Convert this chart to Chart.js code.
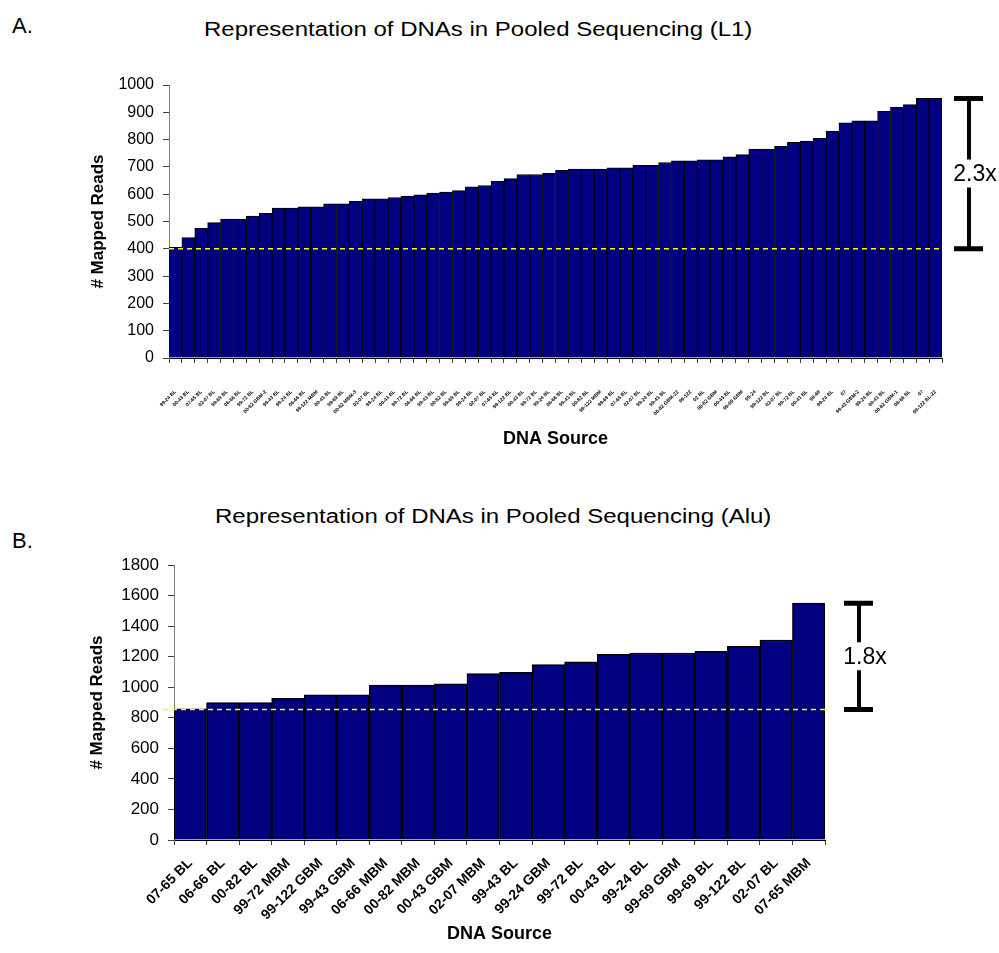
<!DOCTYPE html>
<html>
<head>
<meta charset="utf-8">
<script src="https://cdn.jsdelivr.net/npm/chart.js@4"></script>
<style>
  body { margin: 0; background: #fff; font-family: "Liberation Sans", Arial, sans-serif; }
  #wrap { position: relative; width: 999px; height: 953px; }
  canvas { position: absolute; left: 0; }
  .txt { position: absolute; white-space: nowrap; color: #000; line-height: 1; }
  .ttl { font-size: 20px; transform: scaleX(1.2); transform-origin: left center; }
</style>
</head>
<body>
<div id="wrap">
  <div class="txt" style="left:12px;top:15px;font-size:22px">A.</div>
  <div class="txt ttl" style="left:204px;top:19px">Representation of DNAs in Pooled Sequencing (L1)</div>
  <canvas id="l1" width="999" height="470" style="top:0"></canvas>
  <div class="txt" style="left:12px;top:530px;font-size:22px">B.</div>
  <div class="txt ttl" style="left:215px;top:506px">Representation of DNAs in Pooled Sequencing (Alu)</div>
  <canvas id="alu" width="999" height="483" style="top:470px"></canvas>
</div>
<script>
// L1 panel: 60 DNA sources (labels too small to read, estimated)
const l1Labels = [
  "99-24 BL", "00-43 BL", "07-65 BL", "02-07 BL", "99-69 BL", "06-66 BL", "99-72 BL", "00-82 GBM-2",
  "99-43 BL", "99-24 BL", "06-66 BL", "99-122 MBM", "00-43 BL", "99-69 BL", "00-82 MBM-3", "02-07 BL",
  "99-24 BL", "00-43 BL", "99-72 BL", "06-66 BL", "99-43 BL", "00-82 BL", "99-69 BL", "99-24 BL",
  "02-07 BL", "07-65 BL", "99-122 BL", "00-43 BL", "99-72 BL", "99-24 BL", "06-66 BL", "99-43 BL",
  "00-82 BL", "99-122 MBM", "99-69 BL", "07-65 BL", "02-07 BL", "99-24 BL", "99-43 BL", "00-82 GBM-22",
  "99-122", "02 BL", "00-82 GBM", "00-43 BL", "99-69 GBM", "99-24", "99-122 BL", "02-07 BL",
  "99-72 BL", "00-43 BL", "99-69", "99-24 BL", "07", "99-43 GBM-2", "99-24 BL", "00-43 BL",
  "00-82 GBM-1", "06-66 BL", "07", "99-122 BL-22"
];
const l1Reads = [
  405, 441, 475, 496, 509, 509, 520, 530, 549, 549,
  554, 554, 565, 565, 574, 583, 583, 588, 593, 598,
  604, 608, 613, 627, 632, 647, 657, 672, 672, 676,
  687, 692, 692, 692, 697, 697, 706, 706, 716, 722,
  722, 726, 726, 737, 745, 765, 765, 775, 790, 795,
  805, 831, 861, 869, 869, 904, 918, 928, 951, 951
];
const l1Ticks = { min: 0, max: 1000, step: 100 };

// Alu panel
const aluLabels = [
  "07-65 BL", "06-66 BL", "00-82 BL", "99-72 MBM", "99-122 GBM", "99-43 GBM", "06-66 MBM",
  "00-82 MBM", "00-43 GBM", "02-07 MBM", "99-43 BL", "99-24 GBM", "99-72 BL", "00-43 BL",
  "99-24 BL", "99-69 GBM", "99-69 BL", "99-122 BL", "02-07 BL", "07-65 MBM"
];
const aluReads = [
  859, 900, 900, 927, 951, 951, 1014, 1014, 1023, 1089,
  1097, 1148, 1167, 1215, 1224, 1224, 1235, 1268, 1309, 1550
];
const aluTicks = { min: 0, max: 1800, step: 200 };

// dashed reference level and fold-range bracket
const l1Ref = { level: 400, fold: "2.3x" };
const aluRef = { level: 855, fold: "1.8x" };

Chart.defaults.font.family = "'Liberation Sans', Arial, sans-serif";
Chart.defaults.color = "#000";

const foldBracket = {
  id: "foldBracket",
  afterDatasetsDraw(chart, args, opts) {
    const { ctx, chartArea, scales: { y } } = chart;
    const lvl = y.getPixelForValue(opts.level);
    const hi = y.getPixelForValue(Math.max(...chart.data.datasets[0].data));
    ctx.save();
    // yellow dashed line
    ctx.strokeStyle = "#ffff00";
    ctx.lineWidth = 1.5;
    ctx.setLineDash([5, 4]);
    ctx.beginPath();
    ctx.moveTo(chartArea.left - opts.extendLeft, lvl);
    ctx.lineTo(chartArea.right, lvl);
    ctx.stroke();
    ctx.setLineDash([]);
    // bracket
    const x = chartArea.right + opts.gap;
    const mid = (hi + lvl) / 2;
    ctx.strokeStyle = "#000";
    ctx.lineWidth = 4;
    ctx.beginPath();
    ctx.moveTo(x, hi); ctx.lineTo(x, mid - 14);
    ctx.moveTo(x, mid + 14); ctx.lineTo(x, lvl);
    ctx.stroke();
    ctx.lineWidth = 5;
    ctx.beginPath();
    ctx.moveTo(x - 15, hi); ctx.lineTo(x + 14, hi);
    ctx.moveTo(x - 15, lvl); ctx.lineTo(x + 14, lvl);
    ctx.stroke();
    ctx.fillStyle = "#000";
    ctx.font = "23px 'Liberation Sans', Arial, sans-serif";
    ctx.textAlign = "center";
    ctx.textBaseline = "middle";
    ctx.fillText(opts.fold, x + 6, mid + 1);
    ctx.restore();
  }
};

function makeChart(id, labels, reads, ticks, ref, cfg) {
  return new Chart(document.getElementById(id), {
    type: "bar",
    data: {
      labels: labels,
      datasets: [{
        data: reads,
        backgroundColor: "#000080",
        borderColor: "#000",
        borderWidth: cfg.barBorder,
        barPercentage: 1,
        categoryPercentage: 1
      }]
    },
    options: {
      responsive: false,
      animation: false,
      layout: { padding: cfg.padding },
      plugins: {
        legend: { display: false },
        tooltip: { enabled: false },
        foldBracket: { level: ref.level, fold: ref.fold, gap: cfg.gap, extendLeft: cfg.extendLeft }
      },
      scales: {
        x: {
          grid: { offset: true, drawOnChartArea: false, tickLength: 5, tickColor: "#404040" },
          border: { color: "#000" },
          ticks: {
            autoSkip: false, minRotation: 45, maxRotation: 45,
            padding: cfg.xPad, font: cfg.xFont
          },
          title: {
            display: true, text: "DNA Source", padding: 0,
            font: { size: 18, weight: "bold" }
          },
          afterFit: s => { s.height = cfg.xHeight; }
        },
        y: {
          min: ticks.min, max: ticks.max,
          grid: { drawOnChartArea: false, tickLength: 6, tickColor: "#404040" },
          border: { color: "#808080" },
          ticks: {
            stepSize: ticks.step, padding: 9, font: { size: cfg.yFontSize },
            callback: v => String(v)
          },
          title: {
            display: true, text: "# Mapped Reads", padding: { top: 4, bottom: 0 },
            font: { size: 17, weight: "bold" }
          },
          afterFit: s => { s.width = cfg.yWidth; }
        }
      }
    },
    plugins: [foldBracket]
  });
}

makeChart("l1", l1Labels, l1Reads, l1Ticks, l1Ref, {
  padding: { left: 84, right: 57, top: 85, bottom: 20 },
  yWidth: 85, xHeight: 92, xPad: 26, gap: 27, extendLeft: 0, barBorder: 1,
  xFont: { size: 5, weight: "bold" }, yFontSize: 16
});

makeChart("alu", aluLabels, aluReads, aluTicks, aluRef, {
  padding: { left: 83, right: 174, top: 95, bottom: 8 },
  yWidth: 91, xHeight: 105, xPad: 10, gap: 34, extendLeft: 11, barBorder: 1.5,
  xFont: { size: 14, weight: "bold" }, yFontSize: 17
});
</script>
</body>
</html>
